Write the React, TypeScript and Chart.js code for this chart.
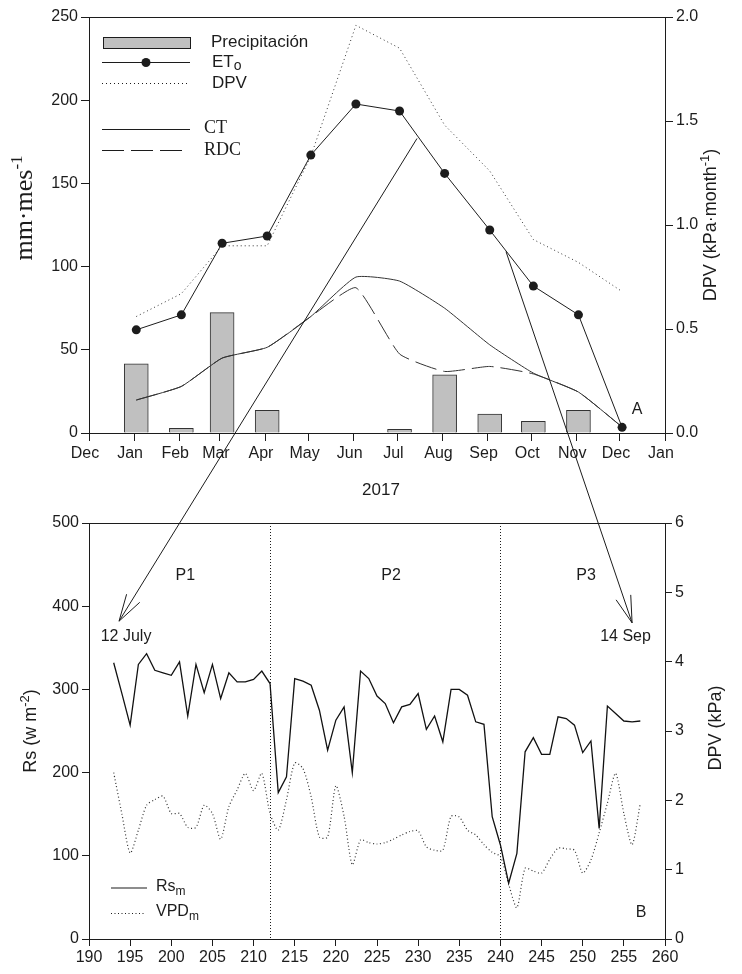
import React, { useEffect, useRef } from "react";
import { Chart, registerables } from "chart.js";

Chart.register(...registerables);

const SANS = '"Liberation Sans", Arial, sans-serif';
const SERIF = '"Liberation Serif", "Times New Roman", serif';
const INK = "#1c1c1c";

// ---------- Panel A: monthly climate, 2017 (x = days since 1 Jan 2017) ----------
const MONTH_TICKS = [-31, 0, 31, 59, 90, 120, 151, 181, 212, 243, 273, 304, 334, 365];
const MONTH_TICK_LABELS = ["Dec", "Jan", "Feb", "Mar", "Apr", "May", "Jun", "Jul", "Aug", "Sep", "Oct", "Nov", "Dec", "Jan"];
const MONTH_X = [1.5, 32.5, 60.5, 91.5, 121.5, 152.5, 182.5, 213.5, 244.5, 274.5, 305.5, 335.5];
const PRECIPITACION = [41.5, 2.8, 72.3, 13.6, 0, 0, 2.2, 35, 11.4, 7, 13.6, 0];
const ETO = [62, 71, 114, 118.4, 167, 197.7, 193.5, 156, 122, 88.3, 71, 3.4];
const DPV_MES = [0.56, 0.67, 0.9, 0.9, 1.33, 1.96, 1.85, 1.48, 1.26, 0.93, 0.82, 0.68];
const CT = [19.8, 28, 45, 51.5, 70, 93.7, 91.3, 75, 53, 36, 24.6, 3.6];
const RDC = [19.8, 28, 45, 51.5, 70, 87.3, 47.5, 37, 40, 35.5, 24.6, 3.6];

// ---------- Panel B: daily values, day of year ----------
const DAYS = [
  193, 194, 195, 196, 197, 198, 199, 200, 201, 202, 203, 204, 205, 206, 207, 208, 209, 210, 211, 212,
  213, 214, 215, 216, 217, 218, 219, 220, 221, 222, 223, 224, 225, 226, 227, 228, 229, 230, 231, 232,
  233, 234, 235, 236, 237, 238, 239, 240, 241, 242, 243, 244, 245, 246, 247, 248, 249, 250, 251, 252,
  253, 254, 255, 256, 257,
];
const RS_M = [
  332, 295, 257, 330, 343, 323, 320, 317, 333, 268, 330, 296, 330, 289, 320, 309, 309, 312, 322, 307,
  176, 195, 313, 310, 305, 275, 227, 263, 279, 200, 322, 313, 292, 283, 260, 279, 282, 295, 252, 268,
  237, 300, 300, 293, 261, 258, 147, 113, 67, 103, 225, 242, 222, 222, 267, 265, 257, 224, 238, 133,
  280, 271, 262, 261, 262,
];
const VPD_M = [
  2.4, 1.8, 1.24, 1.57, 1.93, 2.01, 2.06, 1.81, 1.81, 1.61, 1.61, 1.93, 1.81, 1.44, 1.91, 2.15, 2.39, 2.14, 2.39, 1.81,
  1.57, 2.01, 2.54, 2.46, 2.05, 1.47, 1.47, 2.21, 1.77, 1.07, 1.43, 1.39, 1.37, 1.39, 1.44, 1.5, 1.55, 1.56, 1.33, 1.28,
  1.28, 1.77, 1.76, 1.57, 1.5, 1.36, 1.25, 1.19, 0.79, 0.45, 1.02, 0.98, 0.95, 1.15, 1.31, 1.3, 1.28, 0.95, 1.14, 1.53,
  1.96, 2.39, 1.81, 1.36, 1.96,
];
const PERIOD_BOUNDS = [212, 240];
const PERIOD_LABELS = [
  { text: "P1", x: 201.7, y: 437 },
  { text: "P2", x: 226.7, y: 437 },
  { text: "P3", x: 250.4, y: 437 },
];

// Arrows from the monthly panel (A units) down to the daily panel (B units)
const ARROWS = [
  { label: "12 July", from: { x: 194.5, y: 177 }, to: { x: 193.65, y: 382 }, labelAt: { x: 194.5, y: 363 } },
  { label: "14 Sep", from: { x: 255.7, y: 109 }, to: { x: 256.0, y: 380 }, labelAt: { x: 255.2, y: 363 } },
];

const W = 742;
const PANEL_A_H = 500;
const PANEL_B_TOP = 500;
const PANEL_B_H = 474;

type Part = { text: string; font: string; rise?: number };

function drawRotatedParts(ctx: CanvasRenderingContext2D, parts: Part[], baselineX: number, cy: number) {
  ctx.save();
  ctx.translate(baselineX, cy);
  ctx.rotate(-Math.PI / 2);
  ctx.textBaseline = "alphabetic";
  ctx.textAlign = "left";
  let total = 0;
  const widths = parts.map((p) => {
    ctx.font = p.font;
    const w = ctx.measureText(p.text).width;
    total += w;
    return w;
  });
  let x = -total / 2;
  parts.forEach((p, i) => {
    ctx.font = p.font;
    ctx.fillText(p.text, x, -(p.rise || 0));
    x += widths[i];
  });
  ctx.restore();
}

function drawParts(ctx: CanvasRenderingContext2D, parts: Part[], x: number, y: number) {
  ctx.save();
  ctx.textBaseline = "middle";
  ctx.textAlign = "left";
  let cx = x;
  parts.forEach((p) => {
    ctx.font = p.font;
    ctx.fillText(p.text, cx, y - (p.rise || 0));
    cx += ctx.measureText(p.text).width;
  });
  ctx.restore();
}

function frame(ctx: CanvasRenderingContext2D, a: { left: number; top: number; right: number; bottom: number }) {
  ctx.save();
  ctx.strokeStyle = INK;
  ctx.lineWidth = 1;
  const l = Math.round(a.left) + 0.5;
  const t = Math.round(a.top) + 0.5;
  const r = Math.round(a.right) + 0.5;
  const b = Math.round(a.bottom) + 0.5;
  ctx.strokeRect(l, t, r - l, b - t);
  ctx.restore();
}

const panelAPlugin = {
  id: "panelA",
  afterDraw(chart: any) {
    const { ctx, chartArea } = chart;
    const xs = chart.scales.x;
    const ys = chart.scales.y;
    frame(ctx, chartArea);
    ctx.save();
    ctx.fillStyle = INK;
    ctx.strokeStyle = INK;
    ctx.lineWidth = 1;

    // legend
    ctx.fillStyle = "#c0c0c0";
    ctx.fillRect(103, 37, 87, 11);
    ctx.strokeRect(103.5, 37.5, 87, 11);
    ctx.fillStyle = INK;
    drawParts(ctx, [{ text: "Precipitación", font: `17px ${SANS}` }], 211, 42);

    ctx.beginPath();
    ctx.moveTo(102, 62.5);
    ctx.lineTo(190, 62.5);
    ctx.stroke();
    ctx.beginPath();
    ctx.arc(146, 62.5, 4.5, 0, Math.PI * 2);
    ctx.fill();
    drawParts(ctx, [
      { text: "ET", font: `17px ${SANS}` },
      { text: "o", font: `14px ${SANS}`, rise: -4 },
    ], 212, 62);

    ctx.setLineDash([1, 3]);
    ctx.beginPath();
    ctx.moveTo(102, 83.5);
    ctx.lineTo(190, 83.5);
    ctx.stroke();
    ctx.setLineDash([]);
    drawParts(ctx, [{ text: "DPV", font: `17px ${SANS}` }], 212, 83);

    ctx.beginPath();
    ctx.moveTo(102, 129.5);
    ctx.lineTo(190, 129.5);
    ctx.stroke();
    drawParts(ctx, [{ text: "CT", font: `18px ${SERIF}` }], 204, 128);

    ctx.setLineDash([22, 7]);
    ctx.beginPath();
    ctx.moveTo(102, 150.5);
    ctx.lineTo(183, 150.5);
    ctx.stroke();
    ctx.setLineDash([]);
    drawParts(ctx, [{ text: "RDC", font: `18px ${SERIF}` }], 204, 150);

    // panel letter
    ctx.font = `16px ${SANS}`;
    ctx.textAlign = "center";
    ctx.textBaseline = "middle";
    ctx.fillText("A", xs.getPixelForValue(345.8), ys.getPixelForValue(13.8));

    // x-axis title
    ctx.font = `17px ${SANS}`;
    ctx.fillText("2017", (chartArea.left + chartArea.right) / 2 + 4, 490);

    // axis titles
    drawRotatedParts(ctx, [
      { text: "mm·mes", font: `26px ${SERIF}` },
      { text: "-1", font: `17px ${SERIF}`, rise: 10 },
    ], 32, 208);
    drawRotatedParts(ctx, [
      { text: "DPV (kPa·month", font: `18px ${SANS}` },
      { text: "-1", font: `13px ${SANS}`, rise: 7 },
      { text: ")", font: `18px ${SANS}` },
    ], 716, 225);
    ctx.restore();
  },
};

const panelBPlugin = {
  id: "panelB",
  beforeDatasetsDraw(chart: any) {
    const { ctx, chartArea } = chart;
    const xs = chart.scales.x;
    ctx.save();
    ctx.strokeStyle = INK;
    ctx.lineWidth = 1;
    ctx.setLineDash([1, 2]);
    PERIOD_BOUNDS.forEach((d) => {
      const px = Math.round(xs.getPixelForValue(d)) + 0.5;
      ctx.beginPath();
      ctx.moveTo(px, chartArea.top);
      ctx.lineTo(px, chartArea.bottom);
      ctx.stroke();
    });
    ctx.restore();
  },
  afterDraw(chart: any) {
    const { ctx, chartArea } = chart;
    const xs = chart.scales.x;
    const ys = chart.scales.y;
    frame(ctx, chartArea);
    ctx.save();
    ctx.fillStyle = INK;
    ctx.strokeStyle = INK;
    ctx.textAlign = "center";
    ctx.textBaseline = "middle";
    ctx.font = `16px ${SANS}`;
    PERIOD_LABELS.forEach((p) => ctx.fillText(p.text, xs.getPixelForValue(p.x), ys.getPixelForValue(p.y)));
    ARROWS.forEach((a) => ctx.fillText(a.label, xs.getPixelForValue(a.labelAt.x), ys.getPixelForValue(a.labelAt.y)));
    ctx.fillText("B", xs.getPixelForValue(257.1), ys.getPixelForValue(31.6));

    // legend
    ctx.lineWidth = 1.2;
    ctx.beginPath();
    ctx.moveTo(111, 388);
    ctx.lineTo(147, 388);
    ctx.stroke();
    ctx.setLineDash([1, 2.5]);
    ctx.beginPath();
    ctx.moveTo(111, 413.5);
    ctx.lineTo(144, 413.5);
    ctx.stroke();
    ctx.setLineDash([]);
    drawParts(ctx, [
      { text: "Rs", font: `16px ${SANS}` },
      { text: "m", font: `12px ${SANS}`, rise: -5 },
    ], 156, 387);
    drawParts(ctx, [
      { text: "VPD", font: `16px ${SANS}` },
      { text: "m", font: `12px ${SANS}`, rise: -5 },
    ], 156, 412);

    // axis titles
    drawRotatedParts(ctx, [
      { text: "Rs (w m", font: `18px ${SANS}` },
      { text: "-2", font: `13px ${SANS}`, rise: 7 },
      { text: ")", font: `18px ${SANS}` },
    ], 36, 231);
    drawRotatedParts(ctx, [{ text: "DPV (kPa)", font: `18px ${SANS}` }], 721, 228);
    ctx.restore();
  },
};

const tickFont = { family: SANS, size: 16 };
const gridOpts = { drawOnChartArea: false, drawTicks: true, tickLength: 8, color: INK, offset: false };

function toXY(xs: number[], ys: number[]) {
  return xs.map((x, i) => ({ x, y: ys[i] }));
}

export default function App() {
  const topRef = useRef<HTMLCanvasElement>(null);
  const botRef = useRef<HTMLCanvasElement>(null);
  const overlayRef = useRef<HTMLCanvasElement>(null);

  useEffect(() => {
    const chartA = new Chart(topRef.current as HTMLCanvasElement, {
      type: "bar",
      data: {
        datasets: [
          {
            type: "line",
            label: "ETo",
            data: toXY(MONTH_X, ETO),
            yAxisID: "y",
            borderColor: INK,
            borderWidth: 1,
            pointRadius: 4.5,
            pointBackgroundColor: INK,
            pointBorderWidth: 0,
            order: 0,
          },
          {
            type: "line",
            label: "DPV",
            data: toXY(MONTH_X, DPV_MES),
            yAxisID: "y1",
            borderColor: "#333",
            borderWidth: 1,
            borderDash: [1, 3],
            pointRadius: 0,
            order: 1,
          },
          {
            type: "line",
            label: "CT",
            data: toXY(MONTH_X, CT),
            yAxisID: "y",
            borderColor: "#333",
            borderWidth: 1,
            pointRadius: 0,
            tension: 0.15,
            order: 2,
          },
          {
            type: "line",
            label: "RDC",
            data: toXY(MONTH_X, RDC),
            yAxisID: "y",
            borderColor: "#333",
            borderWidth: 1,
            borderDash: [22, 7],
            pointRadius: 0,
            tension: 0.15,
            order: 3,
          },
          {
            type: "bar",
            label: "Precipitación",
            data: toXY(MONTH_X, PRECIPITACION),
            yAxisID: "y",
            backgroundColor: "#c0c0c0",
            borderColor: "#333",
            borderWidth: 1,
            borderSkipped: "start",
            barThickness: 24,
            order: 10,
          } as any,
        ],
      },
      options: {
        responsive: false,
        animation: false,
        layout: { padding: { top: 17, left: 0, right: 0, bottom: 0 } },
        plugins: { legend: { display: false }, tooltip: { enabled: false } },
        scales: {
          x: {
            type: "linear",
            offset: false,
            min: -31,
            max: 365,
            afterBuildTicks: (s: any) => {
              s.ticks = MONTH_TICKS.map((v) => ({ value: v }));
            },
            afterFit: (s: any) => {
              s.height = PANEL_A_H - 433;
            },
            ticks: {
              autoSkip: false,
              maxRotation: 0,
              labelOffset: -4,
              color: INK,
              font: tickFont,
              padding: 3,
              callback: (_v: any, i: number) => MONTH_TICK_LABELS[i],
            },
            grid: gridOpts,
            border: { display: false },
          },
          y: {
            position: "left",
            min: 0,
            max: 250,
            afterFit: (s: any) => {
              s.width = 89;
            },
            ticks: { stepSize: 50, color: INK, font: tickFont, padding: 3 },
            grid: gridOpts,
            border: { display: false },
          },
          y1: {
            position: "right",
            min: 0,
            max: 2,
            afterFit: (s: any) => {
              s.width = W - 665;
            },
            ticks: {
              stepSize: 0.5,
              color: INK,
              font: tickFont,
              padding: 3,
              callback: (v: any) => Number(v).toFixed(1),
            },
            grid: gridOpts,
            border: { display: false },
          },
        },
      } as any,
      plugins: [panelAPlugin],
    });

    const chartB = new Chart(botRef.current as HTMLCanvasElement, {
      type: "line",
      data: {
        datasets: [
          {
            label: "Rs",
            data: toXY(DAYS, RS_M),
            yAxisID: "y",
            borderColor: "#111",
            borderWidth: 1.3,
            pointRadius: 0,
          },
          {
            label: "VPD",
            data: toXY(DAYS, VPD_M),
            yAxisID: "y1",
            borderColor: "#333",
            borderWidth: 1.2,
            borderDash: [1, 2.5],
            pointRadius: 0,
            tension: 0.25,
          },
        ],
      },
      options: {
        responsive: false,
        animation: false,
        layout: { padding: { top: 23, left: 0, right: 0, bottom: 0 } },
        plugins: { legend: { display: false }, tooltip: { enabled: false } },
        scales: {
          x: {
            type: "linear",
            min: 190,
            max: 260,
            afterFit: (s: any) => {
              s.height = 35;
            },
            ticks: { stepSize: 5, autoSkip: false, maxRotation: 0, color: INK, font: tickFont, padding: 2 },
            grid: { ...gridOpts, tickLength: 7 },
            border: { display: false },
          },
          y: {
            position: "left",
            min: 0,
            max: 500,
            afterFit: (s: any) => {
              s.width = 89;
            },
            ticks: { stepSize: 100, color: INK, font: tickFont, padding: 3 },
            grid: { ...gridOpts, tickLength: 7 },
            border: { display: false },
          },
          y1: {
            position: "right",
            min: 0,
            max: 6,
            afterFit: (s: any) => {
              s.width = W - 665;
            },
            ticks: { stepSize: 1, color: INK, font: tickFont, padding: 3 },
            grid: { ...gridOpts, tickLength: 7 },
            border: { display: false },
          },
        },
      } as any,
      plugins: [panelBPlugin],
    });

    // Connector arrows between the two panels
    const ov = overlayRef.current as HTMLCanvasElement;
    const ctx = ov.getContext("2d") as CanvasRenderingContext2D;
    ctx.clearRect(0, 0, ov.width, ov.height);
    ctx.strokeStyle = INK;
    ctx.lineWidth = 1;
    ARROWS.forEach((a) => {
      const x0 = chartA.scales.x.getPixelForValue(a.from.x);
      const y0 = chartA.scales.y.getPixelForValue(a.from.y);
      const x1 = chartB.scales.x.getPixelForValue(a.to.x);
      const y1 = chartB.scales.y.getPixelForValue(a.to.y) + PANEL_B_TOP;
      ctx.beginPath();
      ctx.moveTo(x0, y0);
      ctx.lineTo(x1, y1);
      ctx.stroke();
      const ang = Math.atan2(y0 - y1, x0 - x1);
      const len = 28;
      const spread = (16 * Math.PI) / 180;
      ctx.beginPath();
      ctx.moveTo(x1 + len * Math.cos(ang - spread), y1 + len * Math.sin(ang - spread));
      ctx.lineTo(x1, y1);
      ctx.lineTo(x1 + len * Math.cos(ang + spread), y1 + len * Math.sin(ang + spread));
      ctx.stroke();
    });

    return () => {
      chartA.destroy();
      chartB.destroy();
    };
  }, []);

  return (
    <div style={{ position: "absolute", left: 0, top: 0, width: W, height: PANEL_B_TOP + PANEL_B_H, background: "#fff" }}>
      <canvas ref={topRef} width={W} height={PANEL_A_H} style={{ position: "absolute", left: 0, top: 0 }} />
      <canvas ref={botRef} width={W} height={PANEL_B_H} style={{ position: "absolute", left: 0, top: PANEL_B_TOP }} />
      <canvas
        ref={overlayRef}
        width={W}
        height={PANEL_B_TOP + PANEL_B_H}
        style={{ position: "absolute", left: 0, top: 0, pointerEvents: "none" }}
      />
    </div>
  );
}
